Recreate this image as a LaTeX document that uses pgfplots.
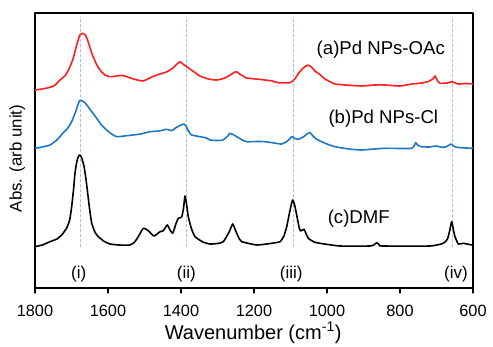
\documentclass[border=0pt]{standalone}
\usepackage{fontspec}
\setmainfont{Liberation Sans}
\usepackage{pgfplots}
\pgfplotsset{compat=1.18}
\usetikzlibrary{calc}
\definecolor{cred}{HTML}{FF1F1F}
\definecolor{cblue}{HTML}{1F77C4}
\definecolor{cdash}{HTML}{9DC3E6}
\begin{document}
\begin{tikzpicture}
\begin{axis}[name=ax, scale only axis, width=438pt, height=275pt,
  xmin=600, xmax=1800, x dir=reverse, ymin=0, ymax=275,
  xtick={600,800,1000,1200,1400,1600,1800}, ytick=\empty,
  xtick pos=bottom, tick align=outside, major tick length=5pt,
  axis line style={line width=1.2pt},
  every tick/.style={line width=1.2pt, black},
  /pgf/number format/assume math mode=true,
  /pgf/number format/set thousands separator={},
  xticklabel style={font=\fontsize{16.3}{18}\selectfont, anchor=base, yshift=-24pt},
  xlabel={Wavenumber (cm\textsuperscript{-1})},
  xlabel style={at={(axis description cs:0.498,0)}, anchor=base, yshift=-51.3pt, font=\fontsize{20}{24}\selectfont},
  ylabel={Abs. (arb unit)},
  ylabel style={at={(axis description cs:-0.0304,0.471)}, anchor=base, font=\fontsize{16.8}{20}\selectfont},
  line join=round, line cap=round,
]
% dashed guides
\addplot[cdash, line width=1pt, dash pattern=on 2.5pt off 2.5pt] coordinates {(1675,41) (1675,271)};
\addplot[cdash, line width=1pt, dash pattern=on 2.5pt off 2.5pt] coordinates {(1384,41) (1384,271)};
\addplot[cdash, line width=1pt, dash pattern=on 2.5pt off 2.5pt] coordinates {(1092,41) (1092,271)};
\addplot[cdash, line width=1pt, dash pattern=on 2.5pt off 2.5pt] coordinates {(657,41) (657,271)};
% (a) Pd NPs-OAc
\addplot[cred, line width=1.6pt, smooth, tension=0.35] coordinates {
(1800,198) (1780,199) (1758.9,200.7) (1745,203) (1731.5,208) (1716,213) (1704.1,221.3) (1695,230) (1685.8,243) (1677,253) (1670,254.7)
(1662,253) (1655,247) (1644.7,235) (1632,224) (1621.9,218) (1608,213) (1594.5,211.3) (1575,212) (1558.9,212.5) (1530,209) (1504.1,207)
(1480,211) (1457.5,214) (1440,216) (1421.9,220) (1408,225) (1402.7,226.3) (1395,224) (1375.3,219) (1360,215) (1347.9,212) (1325,209) (1302.2,208)
(1280,210) (1265.3,213) (1249.3,216.3) (1235,213) (1220,210) (1195,209) (1169.9,208) (1150,207) (1134.3,205.3) (1101.4,205.3)
(1088,209) (1079.5,214) (1065,220) (1052.1,223) (1040,220) (1032.9,217) (1018,213) (1005.5,209) (990,206) (978.1,204) (950,203) (904.9,202)
(870,203) (841.1,203) (800,202) (768,204) (740,205) (723.3,206.3) (710,209) (704.1,212) (697,207) (690.4,204.7) (670,205) (658.4,206.3) (640,204) (620,204.5) (600,204)};
% (b) Pd NPs-Cl
\addplot[cblue, line width=1.6pt, smooth, tension=0.35] coordinates {
(1800,139.7) (1780,141) (1758.9,143) (1740,148) (1723.3,155) (1710,160) (1699.5,166.3) (1688,177) (1678,187.3) (1670,187) (1663,185.3)
(1650,179) (1631,169.7) (1618,163) (1603.6,158) (1590,154) (1576.2,151.3) (1555,152) (1531.5,153) (1510,154) (1484.9,156.3) (1460,157) (1439.2,158.7)
(1425,157.3) (1415,160) (1405,162) (1392,164) (1385,161) (1378,156) (1370.7,153) (1347.9,151.3) (1330,150) (1320.5,148)
(1300,147.5) (1284.9,148) (1272,152) (1265.8,154.7) (1255,153) (1247.4,151.3) (1232,148) (1220,146.3) (1190,146.5) (1169.9,146.3) (1145,145) (1124.1,144)
(1108,147) (1096.7,151.3) (1088,149.5) (1079.5,148.7) (1065,151) (1055,154) (1046.6,155.3) (1036,151) (1024.7,148) (1000,144) (978.1,141.3) (940,139) (904.9,138)
(870,139) (841.1,139.7) (800,139.5) (768,139.7) (760,143) (757,145.3) (752,143) (740.5,141.3) (720,141) (700,142) (690,141) (676.7,140.7) (665,143) (660.3,144)
(653,142) (644.7,140.7) (620,140) (600,139.7)};
% (c) DMF
\addplot[black, line width=1.6pt, smooth, tension=0.3] coordinates {
(1800,41.3) (1780,43) (1758.9,46.3) (1740,49) (1726.8,53) (1713.2,60) (1705,68) (1699.5,81.3) (1694,100) (1690.4,115) (1685,127)
(1679,133) (1673,131) (1665.8,122) (1660,108) (1656.7,98) (1650,78) (1644.7,65) (1636,56) (1626.6,51.3) (1610,46.5) (1594.5,44)
(1570,43) (1539.7,43) (1527,46) (1517,51.3) (1503.3,59.7) (1489.6,57.3) (1474,52) (1457.5,56.3)
(1448.5,57.3) (1437.5,63) (1430,58) (1422.7,54.7) (1414,64) (1407.4,69.7) (1398.1,71) (1393,80) (1389,92)
(1384,82) (1380,71.3) (1372,60) (1361.6,51.3) (1340,46) (1320.5,44) (1300,44.5) (1284,46.3) (1267.7,56.3) (1258.4,64)
(1250,57) (1247.4,54.7) (1240,49) (1233.7,46.3) (1192.6,43) (1151.5,44.7) (1128.8,46.3) (1118,52) (1110.4,61.3) (1100,80)
(1094,88) (1088,82) (1081.4,70) (1076,60) (1072.1,57) (1063,58.7) (1051.2,49.7) (1035,46) (1019.2,44.7)
(964.4,42) (882.2,42) (870,43.5) (863.8,45.3) (856,43) (850.1,42) (717.8,42) (681.4,44.7)
(670,49) (664,57) (658.4,66.3) (653,57) (649.3,51.3) (640.3,44) (626.6,44.7) (610,43.5) (600,43)};
% labels
\node[anchor=base, font=\fontsize{18.6}{22}\selectfont] at (axis cs:852.6,233) {(a)Pd NPs-OAc};
\node[anchor=base, font=\fontsize{18.6}{22}\selectfont] at (axis cs:845.7,164.7) {(b)Pd NPs-Cl};
\node[anchor=base, font=\fontsize{18.6}{22}\selectfont] at (axis cs:912.9,64) {(c)DMF};
\node[anchor=base, font=\fontsize{17}{20}\selectfont] at (axis cs:1680,9) {(i)};
\node[anchor=base, font=\fontsize{17}{20}\selectfont] at (axis cs:1385.5,9) {(ii)};
\node[anchor=base, font=\fontsize{17}{20}\selectfont] at (axis cs:1098,9) {(iii)};
\node[anchor=base, font=\fontsize{17}{20}\selectfont] at (axis cs:646.6,9) {(iv)};
\end{axis}
\path ($(ax.south west)+(-35pt,-59pt)$) rectangle ($(ax.north east)+(20pt,13pt)$);
\end{tikzpicture}
\end{document}
